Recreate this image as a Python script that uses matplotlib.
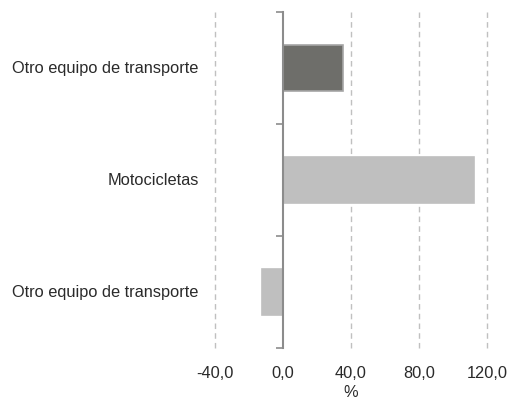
import matplotlib.pyplot as plt
from matplotlib.ticker import FixedLocator

plt.rcParams['font.family'] = ['Liberation Sans', 'DejaVu Sans']

# datos (de abajo hacia arriba)
categorias = ['Otro equipo de transporte', 'Motocicletas', 'Otro equipo de transporte']
valores = [-12.5, 112.5, 35.5]
colores = ['#bfbfbf', '#bfbfbf', '#6e6e6a']
bordes = ['#bfbfbf', '#bfbfbf', '#a6a6a6']
xticks = [-40, 0, 40, 80, 120]

fig = plt.figure(figsize=(5.08, 4.01), dpi=100)
ax = fig.add_axes([0.423, 0.132, 0.536, 0.838])

pos = list(range(len(categorias)))
ax.barh(pos, valores, height=0.41, color=colores, edgecolor=bordes, linewidth=1.2, zorder=3)

ax.set_xlim(-40, 120)
ax.set_ylim(-0.5, len(categorias) - 0.5)
ax.set_xticks(xticks)
ax.set_xticklabels([f'{v:.1f}'.replace('.', ',') for v in xticks], fontsize=11.8, color='#2a2a2a')
ax.tick_params(axis='x', length=0, pad=13)
ax.set_xlabel('%', fontsize=11.8, color='#2a2a2a', labelpad=3)

# rejilla vertical discontinua
for v in xticks:
    if v != 0:
        ax.axvline(v, color='#c0c0c0', linestyle=(0, (4, 3)), linewidth=1, zorder=1, clip_on=False)

# eje vertical en cero con marcas entre categorías
for s in ['top', 'right', 'bottom']:
    ax.spines[s].set_visible(False)
ax.spines['left'].set_position(('data', 0))
ax.spines['left'].set_color('#8c8c8c')
ax.spines['left'].set_linewidth(1.5)
ax.spines['left'].set_zorder(4)
ax.yaxis.set_major_locator(FixedLocator([p - 0.5 for p in pos] + [len(pos) - 0.5]))
ax.set_yticklabels([])
ax.tick_params(axis='y', length=5, width=1.2, color='#8c8c8c', direction='out')

for p, c in zip(pos, categorias):
    ax.text(-0.06, p, c, transform=ax.get_yaxis_transform(), ha='right', va='center',
            fontsize=11.8, color='#2a2a2a')

fig.savefig('out.png', dpi=100)
